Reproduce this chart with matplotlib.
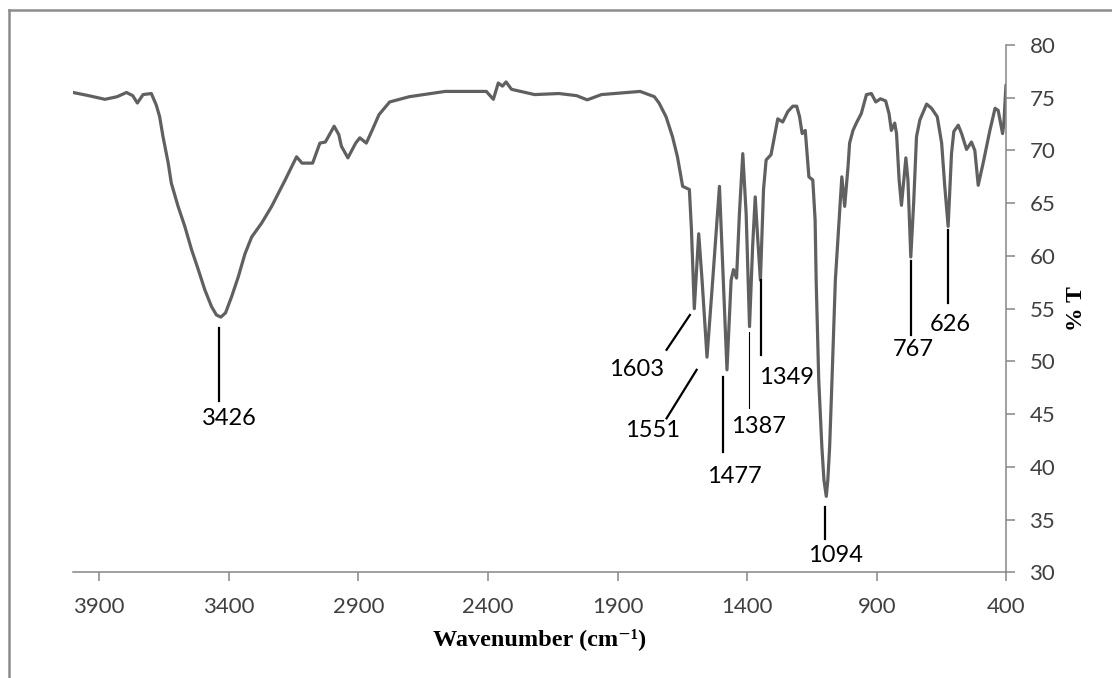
import matplotlib
matplotlib.use("Agg")
import matplotlib.pyplot as plt
from matplotlib.lines import Line2D

# FTIR spectrum (wavenumber in cm-1, %T)
wavenumber = [4000, 3940, 3877, 3830, 3794, 3770, 3752, 3730, 3698, 3679,
              3666, 3653, 3633, 3621, 3595, 3569, 3543, 3517, 3492, 3466,
              3447, 3430, 3412, 3389, 3363, 3337, 3311, 3273, 3234, 3182,
              3138, 3117, 3076, 3048, 3027, 2993,
              2975, 2965, 2940, 2910, 2894, 2869, 2845, 2820, 2779, 2703,
              2565, 2406, 2379, 2360, 2344, 2330, 2309, 2220, 2126, 2058,
              2017, 1962, 1813, 1758, 1740, 1713, 1688, 1669, 1649, 1623,
              1615, 1604, 1587, 1574, 1555, 1533, 1507, 1492, 1478, 1462,
              1453, 1441, 1430, 1417, 1404, 1391, 1379, 1369, 1359, 1349,
              1337, 1327, 1308, 1295, 1282, 1263, 1243, 1224, 1209, 1198,
              1188, 1176, 1162, 1147, 1138, 1134, 1124, 1112, 1104, 1095,
              1089, 1082, 1073, 1060, 1044, 1035, 1024, 1011, 1005, 992,
              979, 960, 940, 921, 904, 886, 866, 853, 844, 831,
              824, 814, 805, 796, 788, 780, 769, 758, 747, 734,
              708, 689, 667, 650, 638, 625, 612, 603, 586, 573,
              554, 535, 522, 509, 490, 464, 444, 432, 415, 410,
              402]
transmittance = [75.5, 75.2, 74.85, 75.1, 75.5, 75.2, 74.5, 75.3, 75.4, 74.3,
                 73.2, 71.3, 68.8, 66.9, 64.7, 62.8, 60.6, 58.7, 56.8, 55.2,
                 54.4, 54.2, 54.6, 56.1, 58.0, 60.2, 61.8, 63.1, 64.7, 67.2,
                 69.4, 68.8, 68.8, 70.7, 70.8, 72.3,
                 71.5, 70.4, 69.3, 70.7, 71.2, 70.7, 72.0, 73.4, 74.6, 75.1,
                 75.6, 75.6, 74.85, 76.4, 76.1, 76.5, 75.8, 75.3, 75.4, 75.2,
                 74.8, 75.3, 75.6, 75.1, 74.5, 73.2, 71.3, 69.4, 66.6, 66.3,
                 62.5, 55.0, 62.1, 57.7, 50.4, 57.7, 66.6, 57.7, 49.2, 57.7,
                 58.7, 57.9, 64.0, 69.7, 64.0, 53.3, 60.9, 65.6, 61.5, 57.7,
                 66.3, 69.1, 69.6, 71.3, 73.0, 72.7, 73.7, 74.2, 74.2, 73.2,
                 71.6, 71.9, 67.5, 67.2, 63.4, 57.7, 48.2, 41.9, 38.75, 37.2,
                 38.75, 41.9, 48.2, 57.7, 64.0, 67.5, 64.7, 68.5, 70.7, 71.9,
                 72.6, 73.5, 75.3, 75.4, 74.6, 74.9, 74.7, 73.5, 71.9, 72.6,
                 71.6, 67.2, 64.8, 67.2, 69.3, 67.2, 59.9, 65.0, 71.3, 72.9,
                 74.4, 74.0, 73.2, 70.7, 66.6, 62.8, 69.7, 71.8, 72.4, 71.6,
                 70.1, 70.8, 70.0, 66.7, 68.8, 71.9, 74.0, 73.8, 71.6, 72.6,
                 76.2]

# peak labels: text, leader line (x0, y0, x1, y1), text centre (x, y), line width
peak_labels = ["3426", "1603", "1551", "1477", "1387", "1349", "1094", "767", "626"]
leader_lines = [(3437, 53.2, 3437, 46.2),
                (1621, 54.4, 1711, 51.1),
                (1595, 49.2, 1711, 44.6),
                (1495, 48.5, 1495, 41.4),
                (1394, 52.8, 1394, 45.6),
                (1346, 57.7, 1346, 50.6),
                (1101, 36.2, 1101, 33.2),
                (769, 59.5, 769, 52.5),
                (627, 62.5, 627, 55.5)]
label_pos = [(3399, 44.6), (1826, 49.2), (1765, 43.4), (1450, 39.1),
             (1357, 43.8), (1248, 48.5), (1058, 31.6), (758, 51.1), (615, 53.5)]
leader_width = [1.6, 1.6, 1.6, 1.6, 0.8, 1.6, 1.6, 1.6, 1.6]

x_ticks = [3900, 3400, 2900, 2400, 1900, 1400, 900, 400]
y_ticks = [30, 35, 40, 45, 50, 55, 60, 65, 70, 75, 80]

plt.rcParams['font.family'] = ['Lato', 'DejaVu Sans']

axis_grey = '#868686'
serif = ['Liberation Serif', 'DejaVu Serif']

fig = plt.figure(figsize=(11.12, 6.78), dpi=100)
ax = fig.add_axes([0.0657, 0.1559, 0.8394, 0.7777])

ax.plot(wavenumber, transmittance, color='#606060', lw=2.3,
        solid_joinstyle='round', solid_capstyle='round')

for i in range(len(peak_labels)):
    x0, y0, x1, y1 = leader_lines[i]
    ax.plot([x0, x1], [y0, y1], color='black', lw=leader_width[i])
    ax.text(label_pos[i][0], label_pos[i][1], peak_labels[i], ha='center',
            va='center', fontsize=17, color='black')

ax.set_xlim(4000, 400)
ax.set_ylim(30, 80)
ax.set_xticks(x_ticks)
ax.set_yticks(y_ticks)

ax.spines['top'].set_visible(False)
ax.spines['left'].set_visible(False)
ax.spines['bottom'].set_color(axis_grey)
ax.spines['right'].set_color(axis_grey)
ax.spines['bottom'].set_linewidth(1.1)
ax.spines['right'].set_linewidth(1.1)

ax.yaxis.tick_right()
ax.yaxis.set_label_position('right')
ax.tick_params(axis='both', direction='out', length=6.5, width=1.1,
               color=axis_grey, labelsize=16, labelcolor='#404040')
ax.tick_params(axis='x', pad=11)
ax.tick_params(axis='y', pad=10)

ax.set_xlabel('Wavenumber (cm\u207b\u00b9)', family=serif,
              fontweight='bold', fontsize=17.5, labelpad=8)
ax.set_ylabel('% T', family=serif, fontweight='bold',
              fontsize=17, rotation=90, labelpad=8)

# outer chart frame (only top and left edges are inside the picture)
fig.add_artist(Line2D([9 / 1112, 9 / 1112], [0, 1 - 10 / 678],
                      transform=fig.transFigure, color='#8c8c8c', lw=1.8))
fig.add_artist(Line2D([9 / 1112, 1], [1 - 10 / 678, 1 - 10 / 678],
                      transform=fig.transFigure, color='#8c8c8c', lw=1.8))

fig.savefig('out.png', dpi=100)
